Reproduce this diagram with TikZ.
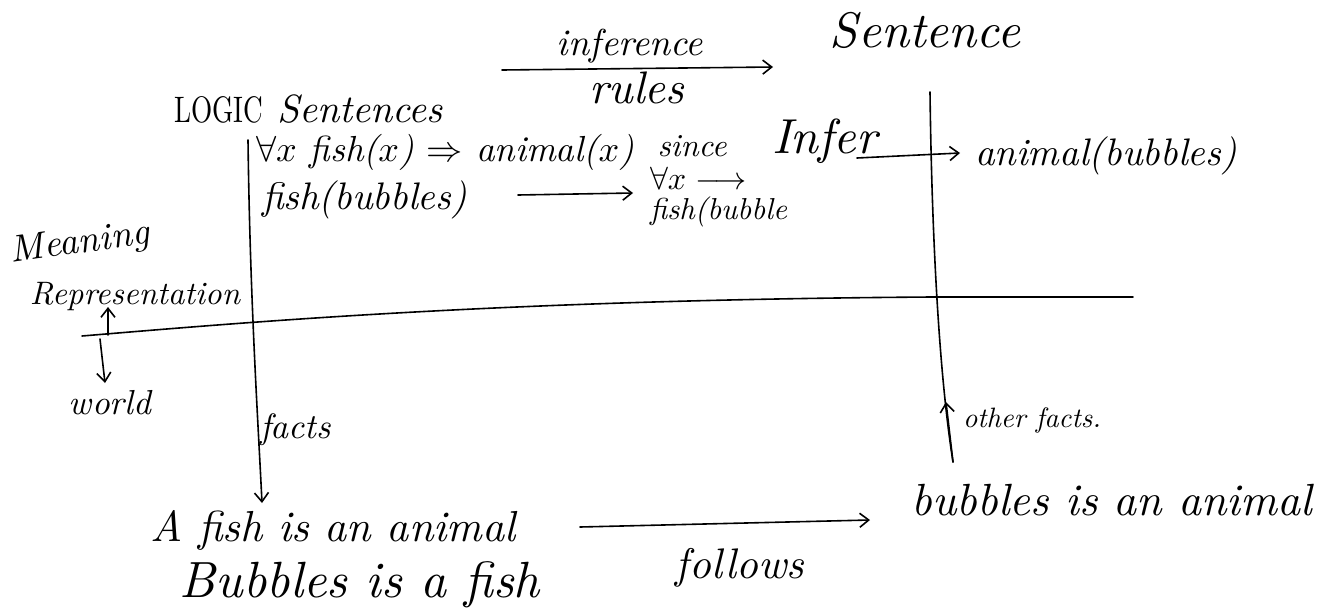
\documentclass[tikz,border=0pt]{standalone}
\usepackage{graphicx}
\usetikzlibrary{arrows.meta}
\newcommand{\hwtxt}[2]{\resizebox{#1pt}{!}{\itshape #2}}
\newcommand{\hwcaps}[3]{\resizebox{#1pt}{#2pt}{\upshape #3}}
\begin{document}
\begin{tikzpicture}[x=1pt,y=-1pt,
  ink/.style={line width=1.6pt,line cap=round,line join=round},
  arr/.style={ink,-{Straight Barb[length=9pt,width=14pt,line width=1.6pt]}},
  lbl/.style={inner sep=0pt,outer sep=0pt}]
\useasboundingbox (0,0) rectangle (1331,611);
\fill[white] (0,0) rectangle (1331,611);

% top labels
\node[lbl] (inf) at (630,46) {\hwtxt{146}{inference}};
\node[lbl] (rul) at (637,88) {\hwtxt{95}{rules}};
\node[lbl] (sent) at (925,30) {\hwtxt{190}{Sentence}};
\node[lbl,anchor=base west] (logic) at (174,122) {\hwcaps{89}{26}{LOGIC}\hspace{14pt}\hwtxt{166}{Sentences}};

% logic sentences
\node[lbl,anchor=west] (r1) at (256,152) {\hwtxt{378}{$\forall x$ fish($x$) $\Rightarrow$ animal($x$)}};
\node[lbl] (since) at (692,146) {\hwtxt{69}{since}};
\node[lbl,anchor=west] (infer) at (772,141) {\hwtxt{105}{Infer}};
\node[lbl,anchor=west] (anb) at (975,156) {\hwtxt{262}{animal(bubbles)}};
\node[lbl,anchor=west] (fb) at (262,200) {\hwtxt{205}{fish(bubbles)}};
\node[lbl,anchor=west] (fa1) at (650,178) {\hwtxt{97}{$\forall x \longrightarrow$}};
\node[lbl,anchor=west] (fa2) at (650,212) {\hwtxt{137}{fish(bubble}};

% meaning representation / world
\node[lbl,rotate=8] (mean) at (80,244) {\hwtxt{140}{Meaning}};
\node[lbl] (repr) at (135,297) {\hwtxt{210}{Representation}};
\node[lbl] (world) at (110,403) {\hwtxt{82}{world}};

% facts
\node[lbl,anchor=west] (facts) at (260,430) {\hwtxt{71}{facts}};
\node[lbl,anchor=west] (other) at (963,420) {\hwtxt{138}{other facts.}};
\node[lbl] (af) at (333,530) {\hwtxt{365}{A fish is an animal}};
\node[lbl] (bf) at (360,585) {\hwtxt{360}{Bubbles is a fish}};
\node[lbl] (follows) at (740,568) {\hwtxt{128}{follows}};
\node[lbl] (ba) at (1112,500) {\hwtxt{400}{bubbles is an animal}};

% coordinates
\coordinate (ir0) at (502,70);
\coordinate (ir1) at (773,67);
\coordinate (lv0) at (248,140);
\coordinate (lv1) at (262,503);
\coordinate (rv0) at (930,92);
\coordinate (rv1) at (953,462);
\coordinate (rvt) at (946,402);
\coordinate (h0) at (82,336);
\coordinate (h1) at (1133,297);
\coordinate (up0) at (108,335);
\coordinate (up1) at (108,307);
\coordinate (dn0) at (100,339);
\coordinate (dn1) at (105,383);
\coordinate (inf0) at (857,158);
\coordinate (inf1) at (960,153);
\coordinate (fb0) at (518,195);
\coordinate (fb1) at (633,193);
\coordinate (fo0) at (580,527);
\coordinate (fo1) at (870,520);

% structure lines
\draw[ink] (h0) .. controls (250,322) and (500,300) .. (932,297) -- (h1);
\draw[arr] (lv0) .. controls (250,300) and (258,420) .. (lv1);
\draw[ink] (rv0) .. controls (932,250) and (940,380) .. (rv1);
\draw[arr] (rv1) -- (rvt);

% arrows
\draw[arr] (ir0) -- (ir1);
\draw[arr] (inf0) -- (inf1);
\draw[arr] (fb0) -- (fb1);
\draw[arr] (fo0) -- (fo1);
\draw[arr] (up0) -- (up1);
\draw[arr] (dn0) -- (dn1);
\end{tikzpicture}
\end{document}
